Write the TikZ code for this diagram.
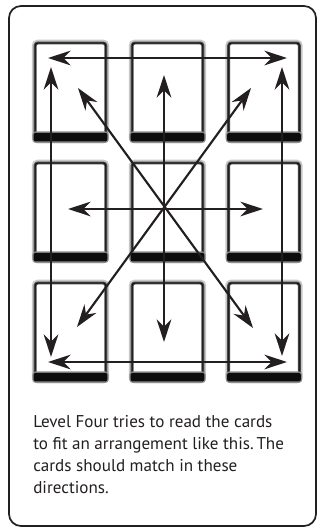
\documentclass[tikz,border=0pt]{standalone}
\usepackage{fontspec}
\setmainfont{PT Sans}
\usetikzlibrary{arrows.meta}
\definecolor{ink}{HTML}{231F20}
\begin{document}
\begin{tikzpicture}[x=0.75pt,y=-0.75pt,
  card/.style={rectangle, rounded corners=2pt, minimum width=53pt, minimum height=72.75pt,
    inner sep=0pt, fill=white, draw=black!72, line width=2.2pt,
    preaction={draw=black!22, line width=5pt},
    postaction={draw=black!95, line width=0.6pt}},
  bar/.style={fill=black!95, rounded corners=1.5pt, preaction={draw=black!45, line width=2pt}},
  arr/.style={draw=ink, line width=1.6pt, {Stealth[length=17pt,width=11pt,inset=5.5pt]}-{Stealth[length=17pt,width=11pt,inset=5.5pt]}},
  txt/.style={anchor=base west, inner sep=0pt, text=ink, font=\fontsize{12.8}{16.5}\selectfont}
]
\useasboundingbox (0,0) rectangle (321,529);
\draw[ink, line width=1.3pt, rounded corners=9pt] (9,6) rectangle (316,526);

% cards
\foreach \r/\yy in {1/91.5,2/211.5,3/331.5}{
  \foreach \c/\xx in {1/70.5,2/167.5,3/264}{
    \node[card] (c\r\c) at (\xx,\yy) {};
    \fill[bar] ([yshift=6.5pt]c\r\c.south west) rectangle (c\r\c.south east);
  }
}

% arrow end points
\coordinate (tL) at (48,58);   \coordinate (tR) at (287,58);
\coordinate (bL) at (48,362);  \coordinate (bR) at (287,362);
\coordinate (mL) at (68,209);  \coordinate (mR) at (263,209);
\coordinate (lT) at (51,67);   \coordinate (lB) at (51,357);
\coordinate (rT) at (282,67);  \coordinate (rB) at (282,356);
\coordinate (cT) at (164,75);  \coordinate (cB) at (164,342);
\coordinate (d1a) at (78,88);  \coordinate (d1b) at (253,328);
\coordinate (d2a) at (251,88); \coordinate (d2b) at (77,327);

\draw[arr] (tL) -- (tR);
\draw[arr] (bL) -- (bR);
\draw[arr] (mL) -- (mR);
\draw[arr] (lT) -- (lB);
\draw[arr] (rT) -- (rB);
\draw[arr] (cT) -- (cB);
\draw[arr] (d1a) -- (d1b);
\draw[arr] (d2a) -- (d2b);

% caption
\node[txt] (t1) at (33,427) {Level Four tries to read the cards};
\node[txt] (t2) at (33,449) {to fit an arrangement like this.\,The};
\node[txt] (t3) at (33,471) {cards should match in these};
\node[txt] (t4) at (33,493) {directions.};
\end{tikzpicture}
\end{document}
